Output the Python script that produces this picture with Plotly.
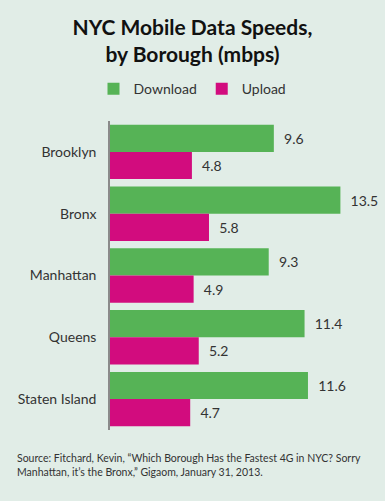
import plotly.graph_objects as go

boroughs = ["Brooklyn", "Bronx", "Manhattan", "Queens", "Staten Island"]
download = [9.6, 13.5, 9.3, 11.4, 11.6]
upload = [4.8, 5.8, 4.9, 5.2, 4.7]

BG = "#e1ede7"
GREEN = "#56b356"
PINK = "#d20c7e"
FONT = "Lato"

fig = go.Figure()
fig.add_trace(go.Bar(
    y=boroughs, x=download, orientation="h", name="Download",
    marker=dict(color=GREEN, line=dict(width=0)),
    text=[f"  {v:.1f}" for v in download], textposition="outside",
    textfont=dict(size=14, color="#333333", family=FONT), cliponaxis=False,
))
fig.add_trace(go.Bar(
    y=boroughs, x=upload, orientation="h", name="Upload",
    marker=dict(color=PINK, line=dict(width=0)),
    text=[f"  {v:.1f}" for v in upload], textposition="outside",
    textfont=dict(size=14, color="#333333", family=FONT), cliponaxis=False,
))

fig.update_layout(
    width=385, height=501,
    paper_bgcolor=BG, plot_bgcolor=BG,
    barmode="group", bargap=0.12, bargroupgap=0,
    margin=dict(l=110, r=19, t=121, b=71, autoexpand=False),
    font=dict(family=FONT, color="#333333"),
    title=dict(
        text="<b>NYC Mobile Data Speeds,<br>by Borough (mbps)</b>",
        x=0.5, xanchor="center", xref="container", y=0.93, yanchor="top", yref="container",
        font=dict(size=21, family=FONT, color="#111111"),
    ),
    legend=dict(
        orientation="h", x=0.5, xanchor="center", xref="container",
        y=0.822, yanchor="middle", yref="container",
        font=dict(size=14, family=FONT, color="#333333"),
        traceorder="normal", itemwidth=30,
    ),
    showlegend=True,
)
fig.update_xaxes(range=[0, 15], visible=False, showgrid=False, zeroline=False, automargin=False)
fig.update_yaxes(
    autorange="reversed", showgrid=False, zeroline=False, automargin=False,
    showline=True, linecolor="#8a8a8a", linewidth=1.5,
    ticks="", ticklabelstandoff=9,
    tickfont=dict(size=14, family=FONT, color="#333333"),
)

fig.add_annotation(
    text="Source: Fitchard, Kevin, \u201cWhich Borough Has the Fastest 4G in NYC? Sorry<br>Manhattan, it\u2019s the Bronx,\u201d Gigaom, January 31, 2013.",
    xref="paper", yref="paper", x=-0.37, y=-0.065, xanchor="left", yanchor="top",
    align="left", showarrow=False,
    font=dict(size=10.5, family=FONT, color="#333333"),
)

fig.write_html(
    "out.html",
    config={"displayModeBar": False},
    post_script="document.body.style.margin='0';document.body.style.overflow='hidden';",
)
